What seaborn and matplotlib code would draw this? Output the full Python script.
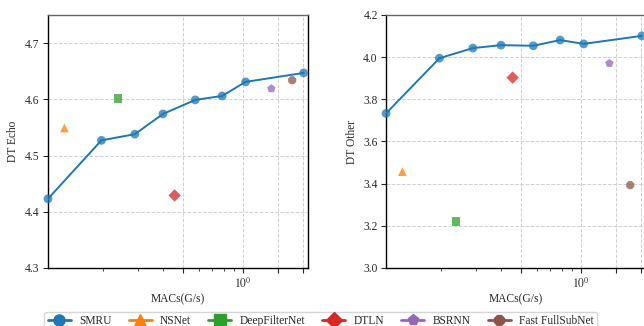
import numpy as np
import pandas as pd
import matplotlib
matplotlib.use("Agg")
import matplotlib.pyplot as plt
import seaborn as sns
from matplotlib.lines import Line2D

# ---- data ----
smru_macs = [0.106, 0.196, 0.288, 0.398, 0.577, 0.786, 1.03, 2.01]
smru_echo = [4.423, 4.527, 4.538, 4.574, 4.599, 4.606, 4.631, 4.647]
smru_other = [3.733, 3.995, 4.043, 4.057, 4.054, 4.081, 4.063, 4.101]

models = ["NSNet", "DeepFilterNet", "DTLN", "BSRNN", "Fast FullSubNet"]
model_macs = [0.128, 0.237, 0.455, 1.385, 1.76]
model_echo = [4.549, 4.601, 4.429, 4.619, 4.634]
model_other = [3.457, 3.219, 3.903, 3.971, 3.393]

markers = ["^", "s", "D", "p", "8"]
colors = sns.color_palette("tab10", 6)

sns.set_style("ticks")
plt.rcParams['font.family'] = ['Liberation Serif', 'DejaVu Serif']
plt.rcParams['mathtext.fontset'] = 'stix'
plt.rcParams['font.size'] = 8.3

fig = plt.figure(figsize=(6.44, 3.26), dpi=100)
ax1 = fig.add_axes([0.0745, 0.178, 0.4037, 0.776])
ax2 = fig.add_axes([0.5994, 0.178, 0.4037, 0.776])

smru_df = pd.DataFrame({'MACs': smru_macs, 'Echo': smru_echo, 'Other': smru_other})
model_df = pd.DataFrame({'Model': models, 'MACs': model_macs,
                         'Echo': model_echo, 'Other': model_other})

def draw(ax, col, ylim, yticks, ylabel):
    sns.lineplot(data=smru_df, x='MACs', y=col, ax=ax, color=colors[0],
                 linewidth=1.4, zorder=3)
    ax.scatter(smru_df['MACs'], smru_df[col], s=40, color=colors[0],
               alpha=0.75, edgecolor='none', zorder=4, clip_on=False)
    for i, m in enumerate(models):
        row = model_df[model_df['Model'] == m]
        sns.scatterplot(x=row['MACs'], y=row[col], ax=ax, marker=markers[i],
                        color=colors[i + 1], s=40, alpha=0.75,
                        edgecolor='none', zorder=4)
    ax.set_xscale('log')
    ax.set_xlim(0.106, 2.11)
    ax.set_ylim(*ylim)
    ax.set_yticks(yticks)
    ax.set_xticks([0.5, 1, 1.5, 2], ['', r'$10^0$', '', ''])
    ax.xaxis.set_minor_locator(matplotlib.ticker.FixedLocator(
        [0.2, 0.3, 0.4, 0.6, 0.7, 0.8, 0.9]))
    ax.xaxis.set_minor_formatter(matplotlib.ticker.NullFormatter())
    ax.grid(True, which='major', linestyle='--', color='#d0d0d0', linewidth=0.7)
    ax.tick_params(which='major', length=3.5, width=0.8, pad=2.5)
    ax.tick_params(which='minor', length=2, width=0.6)
    ax.set_xlabel('MACs(G/s)', labelpad=2)
    ax.set_ylabel(ylabel)
    for s in ax.spines.values():
        s.set_color('black')
        s.set_linewidth(1.0)
    ax.spines['top'].set_color('#666666')

draw(ax1, 'Echo', (4.3, 4.75), [4.3, 4.4, 4.5, 4.6, 4.7], 'DT Echo')
draw(ax2, 'Other', (3.0, 4.2), [3.0, 3.2, 3.4, 3.6, 3.8, 4.0, 4.2], 'DT Other')

handles = [Line2D([], [], color=colors[0], marker='o', markersize=8, linewidth=2)]
for i in range(len(models)):
    handles.append(Line2D([], [], color=colors[i + 1], marker=markers[i],
                          markersize=8, linewidth=2))
labels = ["SMRU"] + models
fig.legend(handles, labels, loc='upper center', bbox_to_anchor=(0.498, 0.062),
           ncol=6, handlelength=2.0, handletextpad=0.7,
           columnspacing=1.5, frameon=True, edgecolor='#cccccc',
           borderpad=0.3)

fig.savefig('out.png', dpi=100)
